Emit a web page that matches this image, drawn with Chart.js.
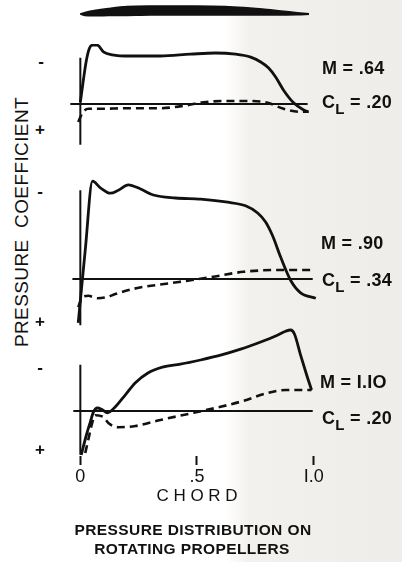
<!DOCTYPE html>
<html>
<head>
<meta charset="utf-8">
<script src="https://cdn.jsdelivr.net/npm/chart.js@4.4.1/dist/chart.umd.min.js"></script>
<style>
  html, body { margin: 0; padding: 0; }
  body {
    width: 402px; height: 562px; position: relative; overflow: hidden;
    background: linear-gradient(90deg, #ffffff 0%, #ffffff 56%, #f3f1ee 62%, #efedea 100%);
    font-family: "Liberation Sans", Arial, sans-serif; color: #111;
  }
  .box { position: absolute; }
  .t { position: absolute; white-space: nowrap; transform: translate(0, -50%); }
  .c { position: absolute; white-space: nowrap; transform: translate(-50%, -50%); }
  .lbl { font-size: 18px; font-weight: bold; letter-spacing: 0.3px; }
  .sign { font-size: 17px; font-weight: bold; }
  sub { font-size: 15px; vertical-align: -6px; line-height: 0; }
</style>
</head>
<body>

<div class="box" style="left:57px;top:0px;width:280px;height:24px;"><canvas id="foil" width="280" height="24"></canvas></div>
<div class="box" style="left:57px;top:44px;width:280px;height:108px;"><canvas id="p1" width="280" height="108"></canvas></div>
<div class="box" style="left:57px;top:174px;width:280px;height:156px;"><canvas id="p2" width="280" height="156"></canvas></div>
<div class="box" style="left:57px;top:321px;width:280px;height:186px;"><canvas id="p3" width="280" height="186"></canvas></div>

<div class="c" style="left:22px;top:222px;transform:translate(-50%,-50%) rotate(-90deg);font-size:19px;letter-spacing:0.4px;">PRESSURE&nbsp; COEFFICIENT</div>

<div class="c sign" style="left:41px;top:62px;">-</div>
<div class="c sign" style="left:40px;top:130px;">+</div>
<div class="c sign" style="left:40px;top:192px;">-</div>
<div class="c sign" style="left:40px;top:322px;">+</div>
<div class="c sign" style="left:40px;top:368px;">-</div>
<div class="c sign" style="left:40px;top:450px;">+</div>

<div class="t lbl" style="left:322px;top:68px;">M = .64</div>
<div class="t lbl" style="left:322px;top:102px;">C<sub>L</sub> = .20</div>
<div class="t lbl" style="left:321px;top:243px;">M = .90</div>
<div class="t lbl" style="left:322px;top:280px;">C<sub>L</sub> = .34</div>
<div class="t lbl" style="left:320px;top:382px;">M = I.IO</div>
<div class="t lbl" style="left:322px;top:418px;">C<sub>L</sub> = .20</div>

<div class="c" style="left:193px;top:530px;font-size:15.5px;font-weight:bold;letter-spacing:0.4px;">PRESSURE DISTRIBUTION ON</div>
<div class="c" style="left:192px;top:549px;font-size:15.5px;font-weight:bold;letter-spacing:0.4px;">ROTATING PROPELLERS</div>

<script>
// ---------- DATA ----------
// chord position (fraction of chord) and pressure coefficient (negative = suction, plotted upward)
const xTicks = [0, 0.5, 1.0];
const xTickLabels = ["0", ".5", "I.0"];

// Airfoil section (chord fraction, surface ordinate in arbitrary units)
const foilX     = [0, 0.02, 0.06, 0.12, 0.2, 0.3, 0.5, 0.62, 0.7, 0.78, 0.86, 0.93, 0.98];
const foilUpper = [1, 2.5, 4.5, 6.5, 8.5, 9, 9, 8.5, 7.5, 6, 4, 2.3, 1.2];
const foilLower = [1, -0.5, -0.8, -0.6, -0.4, 0, 0, 0, 0, 0, 0, 0.2, 0.8];

// Panel 1 : M = .64, CL = .20
const p1SolidX  = [0.000, 0.013, 0.026, 0.039, 0.052, 0.073, 0.099, 0.137, 0.215, 0.343, 0.472, 0.579, 0.665, 0.730, 0.773, 0.807, 0.837, 0.871, 0.914, 0.957, 0.976];
const p1SolidCp = [-0.03, -0.40, -0.73, -0.93, -0.98, -0.98, -0.87, -0.82, -0.80, -0.80, -0.83, -0.85, -0.83, -0.78, -0.70, -0.60, -0.45, -0.23, -0.02, 0.10, 0.13];
const p1DashX   = [-0.009, 0.009, 0.034, 0.086, 0.202, 0.343, 0.459, 0.528, 0.631, 0.717, 0.803, 0.871, 0.944, 0.979];
const p1DashCp  = [0.30, 0.15, 0.08, 0.08, 0.07, 0.07, 0.02, -0.03, -0.05, -0.05, -0.02, 0.08, 0.13, 0.13];
const p1AxisCp  = [-0.77, 0.68];
const p1ZeroX   = [-0.043, 0.974];

// Panel 2 : M = .90, CL = .34
const p2SolidX  = [-0.009, 0.021, 0.052, 0.086, 0.129, 0.163, 0.206, 0.258, 0.313, 0.408, 0.515, 0.631, 0.708, 0.760, 0.794, 0.824, 0.858, 0.901, 0.944, 1.009];
const p2SolidCp = [0.73, -0.48, -1.63, -1.52, -1.43, -1.48, -1.57, -1.50, -1.40, -1.35, -1.33, -1.28, -1.22, -1.10, -0.95, -0.72, -0.37, 0.02, 0.23, 0.32];
const p2DashX   = [-0.009, 0.009, 0.034, 0.073, 0.116, 0.150, 0.245, 0.386, 0.558, 0.700, 0.845, 1.000];
const p2DashCp  = [0.47, 0.30, 0.28, 0.32, 0.30, 0.25, 0.15, 0.07, -0.03, -0.12, -0.15, -0.15];
const p2AxisCp  = [-1.48, 0.77];
const p2ZeroX   = [-0.034, 0.996];

// Panel 3 : M = 1.10, CL = .20
const p3SolidX  = [0.004, 0.026, 0.043, 0.056, 0.073, 0.094, 0.116, 0.150, 0.193, 0.236, 0.288, 0.352, 0.429, 0.515, 0.601, 0.687, 0.773, 0.837, 0.880, 0.901, 0.918, 0.944, 0.970, 0.991];
const p3SolidCp = [0.73, 0.40, 0.18, 0.02, -0.05, -0.02, 0.03, -0.07, -0.27, -0.47, -0.63, -0.73, -0.78, -0.85, -0.93, -1.03, -1.15, -1.25, -1.33, -1.35, -1.28, -0.93, -0.60, -0.35];
const p3DashX   = [0.021, 0.034, 0.052, 0.064, 0.099, 0.120, 0.163, 0.236, 0.343, 0.485, 0.601, 0.700, 0.803, 0.880, 0.944, 0.991];
const p3DashCp  = [0.70, 0.48, 0.18, 0.07, 0.10, 0.20, 0.27, 0.25, 0.15, 0.03, -0.07, -0.17, -0.30, -0.35, -0.35, -0.35];
const p3AxisCp  = [-0.77, 0.73];
const p3ZeroX   = [-0.03, 0.996];

// ---------- BUILD ----------
const pts = (xs, ys) => xs.map((x, i) => ({ x: x, y: ys[i] }));
const INK = '#111111';

function lineDs(data, width, dash) {
  return { data: data, showLine: true, borderColor: INK, backgroundColor: INK,
           borderWidth: width, borderDash: dash || [], pointRadius: 0,
           tension: 0.35, cubicInterpolationMode: 'monotone', fill: false };
}
function straightDs(data, width) {
  return { data: data, showLine: true, borderColor: INK, borderWidth: width,
           pointRadius: 0, tension: 0, fill: false };
}

function panel(id, solidX, solidCp, dashX, dashCp, axisCp, zeroX, yMin, yMax, withAxis) {
  const xScale = { type: 'linear', min: -0.1, max: 1.1, display: false };
  if (withAxis) {
    Object.assign(xScale, {
      display: true,
      afterBuildTicks: (s) => { s.ticks = xTicks.map(v => ({ value: v })); },
      afterFit: (s) => { s.height = 51; },
      ticks: { color: INK, padding: 1, font: { family: 'Liberation Sans', size: 18 },
               maxRotation: 0, autoSkip: false,
               callback: (v) => { const i = xTicks.indexOf(v); return i >= 0 ? xTickLabels[i] : ''; } },
      grid: { drawOnChartArea: false, drawTicks: true, tickLength: 9, tickWidth: 2, tickColor: INK, color: INK },
      border: { display: false },
      title: { display: true, text: 'C H O R D', color: INK, padding: 0,
               font: { family: 'Liberation Sans', size: 17 } }
    });
  }
  new Chart(document.getElementById(id), {
    type: 'scatter',
    data: { datasets: [
      straightDs(pts([0, 0], axisCp), 2),
      straightDs(pts(zeroX, [0, 0]), 2),
      lineDs(pts(dashX, dashCp), 2.6, [8, 5]),
      lineDs(pts(solidX, solidCp), 2.8)
    ] },
    options: {
      responsive: false, animation: false, events: [],
      layout: { padding: 0 },
      plugins: { legend: { display: false }, tooltip: { enabled: false } },
      scales: {
        x: xScale,
        y: { type: 'linear', min: yMin, max: yMax, reverse: true, display: false }
      }
    }
  });
}

// airfoil
new Chart(document.getElementById('foil'), {
  type: 'scatter',
  data: { datasets: [
    { data: pts(foilX, foilUpper), showLine: true, borderColor: INK, backgroundColor: INK,
      borderWidth: 1.5, pointRadius: 0, tension: 0.3, fill: '+1' },
    { data: pts(foilX, foilLower), showLine: true, borderColor: INK, backgroundColor: INK,
      borderWidth: 1.5, pointRadius: 0, tension: 0.3, fill: false }
  ] },
  options: {
    responsive: false, animation: false, events: [],
    layout: { padding: 0 },
    plugins: { legend: { display: false }, tooltip: { enabled: false } },
    scales: {
      x: { type: 'linear', min: -0.1, max: 1.1, display: false },
      y: { type: 'linear', min: -9, max: 15, display: false }
    }
  }
});

panel('p1', p1SolidX, p1SolidCp, p1DashX, p1DashCp, p1AxisCp, p1ZeroX, -1.0, 0.8, false);
panel('p2', p2SolidX, p2SolidCp, p2DashX, p2DashCp, p2AxisCp, p2ZeroX, -1.75, 0.85, false);
panel('p3', p3SolidX, p3SolidCp, p3DashX, p3DashCp, p3AxisCp, p3ZeroX, -1.5, 0.75, true);
</script>
</body>
</html>
